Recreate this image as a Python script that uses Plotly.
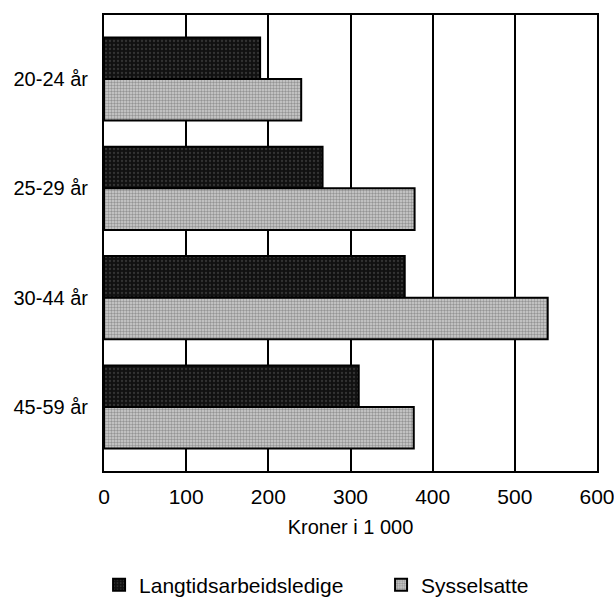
import plotly.graph_objects as go

categories = ["20-24 år", "25-29 år", "30-44 år", "45-59 år"]
langtid = [190, 266, 366, 310]
sysselsatte = [240, 378, 540, 377]
series_names = ["Langtidsarbeidsledige", "Sysselsatte"]
x_ticks = [0, 100, 200, 300, 400, 500, 600]

FONT = "Liberation Sans, Arial, sans-serif"

fig = go.Figure()
fig.add_trace(go.Bar(
    y=categories, x=langtid, orientation="h", name=series_names[0], legend="legend",
    marker=dict(color="#1c1c1c", line=dict(color="black", width=2),
                pattern=dict(shape=".", fgcolor="#555555", bgcolor="#111111", size=4, solidity=0.25)),
))
fig.add_trace(go.Bar(
    y=categories, x=sysselsatte, orientation="h", name=series_names[1], legend="legend2",
    marker=dict(color="#bdbdbd", line=dict(color="black", width=2),
                pattern=dict(shape=".", fgcolor="#5a5a5a", bgcolor="#cfcfcf", size=3, solidity=0.5)),
))

fig.update_layout(
    width=614, height=608,
    margin=dict(l=104, r=17, t=15, b=137, autoexpand=False),
    paper_bgcolor="white", plot_bgcolor="white",
    barmode="group", bargap=0.24, bargroupgap=0,
    font=dict(family=FONT, size=20, color="black"),
    showlegend=True,
    legend=dict(x=-0.01, xanchor="left", y=-0.25, yanchor="middle",
                font=dict(size=21), itemwidth=30, bgcolor="rgba(0,0,0,0)"),
    legend2=dict(x=0.562, xanchor="left", y=-0.25, yanchor="middle",
                 font=dict(size=21), itemwidth=30, bgcolor="rgba(0,0,0,0)"),
)
fig.update_xaxes(
    range=[0, 600], tickvals=x_ticks, ticktext=[str(v) for v in x_ticks],
    showgrid=True, gridcolor="black", gridwidth=1.5,
    showline=True, linecolor="black", linewidth=2, mirror=True,
    ticks="", zeroline=False, automargin=False, ticklabeloverflow="allow",
    ticklabelstandoff=6,
    title=dict(text="Kroner i 1 000", font=dict(size=20), standoff=13),
    tickfont=dict(size=21),
)
fig.update_yaxes(
    type="category", categoryorder="array", categoryarray=categories,
    range=[3.585, -0.585], automargin=False,
    showgrid=False, showline=True, linecolor="black", linewidth=2, mirror=True,
    ticks="", ticklabelstandoff=10, tickfont=dict(size=20),
)

fig.write_html(
    "out.html",
    config={"displayModeBar": False},
    post_script="document.body.style.margin='0';document.body.style.overflow='hidden';",
)
